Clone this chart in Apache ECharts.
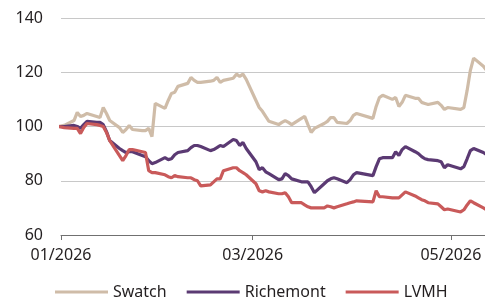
<!DOCTYPE html>
<html lang="en">
<head>
    <meta charset="UTF-8">
    <title>Swatch / Richemont / LVMH</title>
    <style>
        html, body { margin: 0; padding: 0; background: #fff; }
        #main { width: 485px; height: 301px; }
    </style>
</head>
<body>
    <div id="main"></div>
    <script src="https://cdn.jsdelivr.net/npm/echarts@6/dist/echarts.min.js"></script>
    <script>
        // trading days (rebased to 100 at year end)
        var dates = [
            '2025-12-31',
            '2026-01-02', '2026-01-05', '2026-01-06', '2026-01-07', '2026-01-08', '2026-01-09',
            '2026-01-12', '2026-01-13', '2026-01-14', '2026-01-15', '2026-01-16',
            '2026-01-19', '2026-01-20', '2026-01-21', '2026-01-22', '2026-01-23',
            '2026-01-26', '2026-01-27', '2026-01-28', '2026-01-29', '2026-01-30',
            '2026-02-02', '2026-02-03', '2026-02-04', '2026-02-05', '2026-02-06',
            '2026-02-09', '2026-02-10', '2026-02-11', '2026-02-12', '2026-02-13',
            '2026-02-16', '2026-02-17', '2026-02-18', '2026-02-19', '2026-02-20',
            '2026-02-23', '2026-02-24', '2026-02-25', '2026-02-26', '2026-02-27',
            '2026-03-02', '2026-03-03', '2026-03-04', '2026-03-05', '2026-03-06',
            '2026-03-09', '2026-03-10', '2026-03-11', '2026-03-12', '2026-03-13',
            '2026-03-16', '2026-03-17', '2026-03-18', '2026-03-19', '2026-03-20',
            '2026-03-23', '2026-03-24', '2026-03-25', '2026-03-26', '2026-03-27',
            '2026-03-30', '2026-03-31', '2026-04-01', '2026-04-02',
            '2026-04-07', '2026-04-08', '2026-04-09', '2026-04-10',
            '2026-04-13', '2026-04-14', '2026-04-15', '2026-04-16', '2026-04-17',
            '2026-04-20', '2026-04-21', '2026-04-22', '2026-04-23', '2026-04-24',
            '2026-04-27', '2026-04-28', '2026-04-29', '2026-04-30',
            '2026-05-04', '2026-05-05', '2026-05-06', '2026-05-07', '2026-05-08',
            '2026-05-11', '2026-05-12'
        ];

        var swatch = [
            100,
            100.4, 102.2, 105.2, 103.7, 104.1, 104.8,
            103.7, 103.3, 107, 104.8, 102.2,
            99.6, 97.8, 98.9, 100.4, 98.9,
            98.5, 98.5, 99.3, 96.3, 108.5,
            106.7, 109.6, 112.2, 112.6, 114.8,
            115.9, 118.1, 117, 116.3, 116.3,
            116.7, 117, 118.1, 116.3, 117,
            117.8, 119.3, 118.5, 119.3, 117.4,
            109.6, 107, 105.6, 103.7, 101.9,
            100.7, 101.5, 102.2, 101.5, 100.7,
            103, 103.7, 100.7, 97.8, 99.3,
            101.1, 101.9, 103.3, 103.3, 101.5,
            101.1, 102.2, 104.1, 104.8,
            103, 107.4, 110.7, 111.5,
            110, 110.7, 107.4, 108.9, 111.5,
            110.4, 110.4, 108.9, 108.5, 108.1,
            108.9, 107.8, 106.3, 107,
            106.3, 107, 113.3, 120.7, 125.2,
            122.2, 120.7
        ];

        var richemont = [
            100,
            100, 100.4, 100, 99.3, 100.7, 101.9,
            101.5, 101.5, 100.7, 98.1, 94.8,
            91.9, 91.1, 90.4, 90.7, 90.7,
            89.3, 88.9, 87.4, 86.3, 86.7,
            88.5, 87.8, 88.1, 89.6, 90.4,
            91.1, 92.2, 93, 93, 92.6,
            91.1, 91.5, 92.2, 93, 92.6,
            95.2, 94.8, 93, 94.1, 91.9,
            87, 84.1, 84.8, 83.3, 82.6,
            80.4, 80.7, 82.6, 81.9, 80.7,
            79.6, 79.6, 79.6, 77.8, 75.6,
            78.9, 80, 80.7, 81.1, 80.7,
            79.3, 80.4, 82.2, 83,
            81.9, 85.2, 88.1, 88.5,
            88.5, 90.7, 89.3, 91.5, 92.6,
            90.7, 90, 88.9, 88.1, 87.8,
            87.4, 87, 84.8, 85.9,
            84.4, 85.2, 88.1, 91.1, 91.9,
            90.4, 89.6
        ];

        var lvmh = [
            100,
            99.6, 99.3, 99.3, 97.4, 99.6, 101.1,
            100.7, 100.4, 100, 97.8, 94.8,
            89.3, 87.4, 89.3, 91.5, 91.5,
            90.7, 90.4, 83.7, 83, 83,
            82.2, 81.5, 81.1, 81.9, 81.5,
            81.1, 81.1, 80.4, 80, 78.1,
            78.5, 79.6, 80.7, 80.7, 83.7,
            84.8, 84.8, 83.7, 83, 82.2,
            78.9, 76.3, 75.9, 76.3, 75.9,
            75.2, 75.2, 75.6, 74.1, 71.9,
            71.9, 71.1, 70.4, 70, 70,
            70, 70.7, 70.4, 70, 70.4,
            71.5, 71.9, 72.2, 72.6,
            72.2, 76.3, 74.1, 74.1,
            73.7, 73.7, 73.7, 74.8, 75.9,
            74.4, 73.7, 73, 72.6, 71.9,
            71.5, 70.4, 69.3, 69.6,
            68.5, 69.3, 71.1, 72.6, 71.9,
            70, 69.3
        ];

        var tickDates = ['2026-01-01', '2026-03-01', '2026-05-01'];
        var yTicks = [60, 80, 100, 120, 140];

        // dates as UTC milliseconds for a value axis
        function ms(s) { return Date.parse(s + 'T00:00:00Z'); }

        function pairs(vals) {
            return dates.map(function (d, i) { return [ms(d), vals[i]]; });
        }

        var font = '"Noto Sans", sans-serif';
        var textColor = '#231f20';
        var tickMs = tickDates.map(ms);

        var myChart = echarts.init(document.getElementById('main'), null, { renderer: 'canvas' });

        var option = {
            animation: false,
            grid: { left: 61, right: 0, top: 18, bottom: 66 },
            legend: {
                left: 55,
                top: 284,
                padding: 0,
                icon: 'rect',
                itemWidth: 53,
                itemHeight: 3,
                itemGap: 20,
                textStyle: { fontSize: 16, color: textColor, fontFamily: font },
                data: ['Swatch', 'Richemont', 'LVMH']
            },
            xAxis: {
                type: 'value',
                min: ms('2026-01-01'),
                max: ms('2026-05-11') + 12 * 3600 * 1000,
                axisLine: { show: true, onZero: false, lineStyle: { color: '#707070', width: 1 } },
                axisTick: {
                    show: true,
                    length: 5,
                    customValues: tickMs,
                    lineStyle: { color: '#707070' }
                },
                axisLabel: {
                    customValues: tickMs,
                    margin: 12,
                    fontSize: 16,
                    color: textColor,
                    fontFamily: font,
                    formatter: function (val) {
                        var d = new Date(val);
                        var m = d.getUTCMonth() + 1;
                        return (m < 10 ? '0' + m : m) + '/' + d.getUTCFullYear();
                    }
                },
                splitLine: { show: false }
            },
            yAxis: {
                type: 'value',
                min: yTicks[0],
                max: yTicks[yTicks.length - 1],
                interval: 20,
                axisLine: { show: false },
                axisTick: { show: false },
                axisLabel: { margin: 18, fontSize: 16, color: textColor, fontFamily: font },
                splitLine: { lineStyle: { color: '#c8c8c8', width: 1 } }
            },
            series: [
                {
                    name: 'Swatch', type: 'line', data: pairs(swatch),
                    symbol: 'none', color: '#cfbca8',
                    lineStyle: { width: 3.2, color: '#cfbca8' }
                },
                {
                    name: 'Richemont', type: 'line', data: pairs(richemont),
                    symbol: 'none', color: '#5b3a73',
                    lineStyle: { width: 3.2, color: '#5b3a73' }
                },
                {
                    name: 'LVMH', type: 'line', data: pairs(lvmh),
                    symbol: 'none', color: '#c95a5a',
                    lineStyle: { width: 3.2, color: '#c95a5a' }
                }
            ]
        };

        myChart.setOption(option);
    </script>
</body>
</html>
